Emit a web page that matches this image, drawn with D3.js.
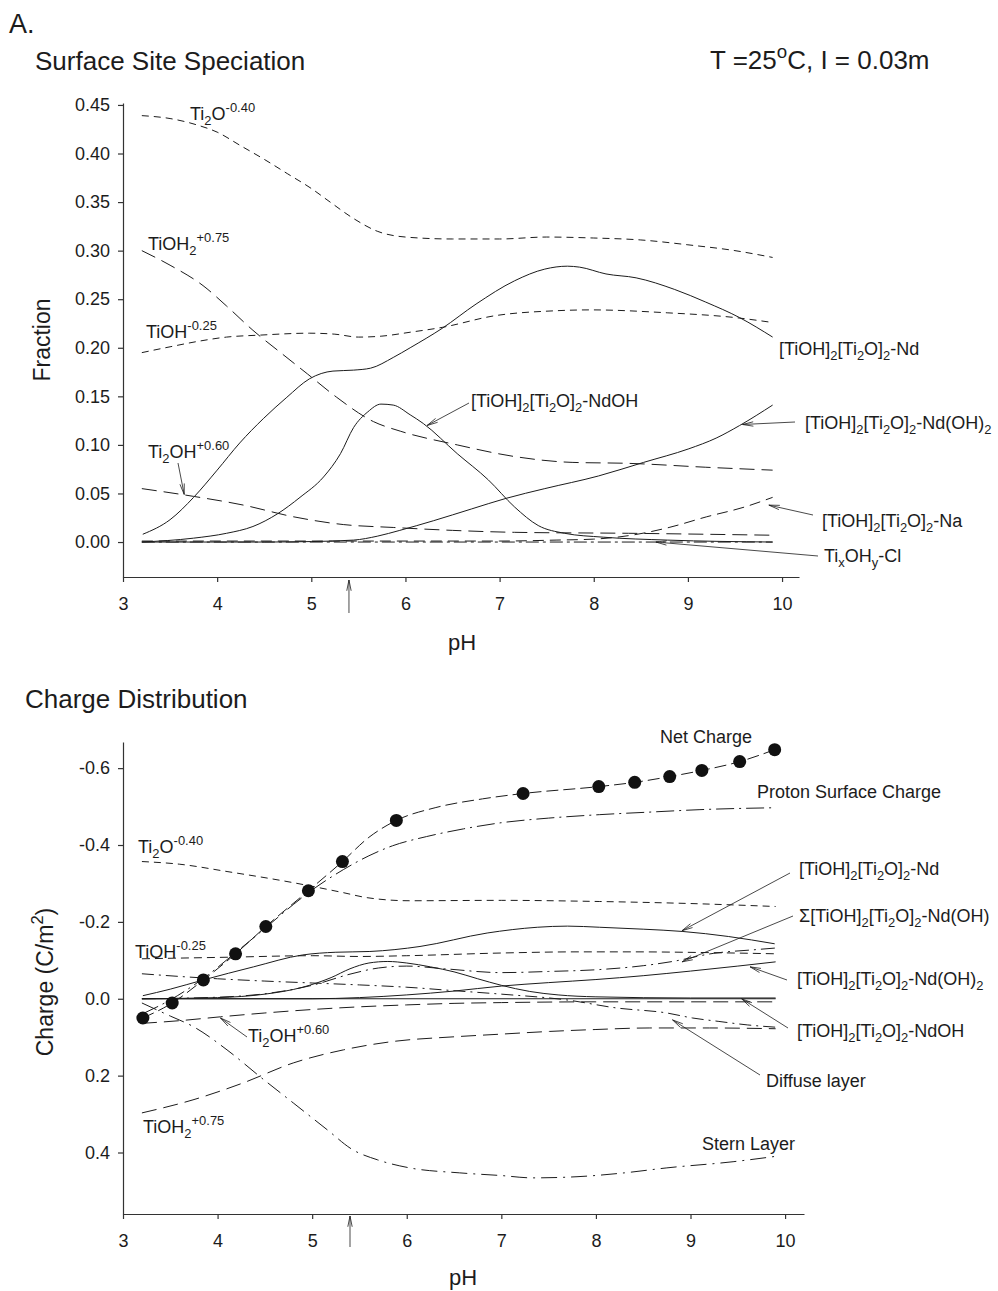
<!DOCTYPE html>
<html><head><meta charset="utf-8">
<script src="https://cdn.jsdelivr.net/npm/d3@7"></script>
<style>
body{margin:0;background:#fff}
text{font-family:"Liberation Sans",Arial,Helvetica,sans-serif;fill:#1c1c1c}
</style>
</head><body>
<svg id="c" width="998" height="1291"></svg>
<script>
// ---------------- DATA ----------------
const phTicks = [3,4,5,6,7,8,9,10];
const fracTicks = [0,0.05,0.10,0.15,0.20,0.25,0.30,0.35,0.40,0.45];
const chargeTicks = [-0.6,-0.4,-0.2,0.0,0.2,0.4];
const pzcPH = 5.4;

// Surface site speciation (fraction vs pH)
const fTi2O = [[3.2,0.439],[3.5,0.436],[3.8,0.429],[4.0,0.422],[4.25,0.408],[4.5,0.394],[4.75,0.379],[5.0,0.364],[5.2,0.350],[5.45,0.333],[5.7,0.320],[6.0,0.314],[6.5,0.312],[7.0,0.312],[7.5,0.314],[8.0,0.313],[8.5,0.311],[9.0,0.306],[9.5,0.300],[9.9,0.293]];
const fTiOH2 = [[3.2,0.300],[3.5,0.285],[3.85,0.264],[4.1,0.243],[4.38,0.218],[4.7,0.193],[4.96,0.173],[5.27,0.149],[5.66,0.124],[5.95,0.114],[6.55,0.100],[7.16,0.088],[7.77,0.082],[8.37,0.081],[9.19,0.077],[9.9,0.074]];
const fTiOH = [[3.2,0.195],[3.5,0.201],[3.82,0.207],[4.1,0.211],[4.45,0.213],[4.98,0.215],[5.25,0.214],[5.5,0.211],[5.75,0.212],[6.05,0.216],[6.39,0.221],[6.95,0.233],[7.57,0.238],[7.97,0.239],[8.78,0.236],[9.51,0.231],[9.9,0.226]];
const fNd = [[3.21,0.008],[3.5,0.023],[3.75,0.046],[4.0,0.074],[4.24,0.102],[4.49,0.127],[4.74,0.149],[4.98,0.168],[5.23,0.176],[5.45,0.177],[5.63,0.179],[5.87,0.190],[6.05,0.200],[6.39,0.220],[6.75,0.245],[7.16,0.269],[7.48,0.281],[7.72,0.284],[7.85,0.283],[8.13,0.276],[8.45,0.272],[8.86,0.260],[9.19,0.247],[9.55,0.231],[9.9,0.211]];
const fNdOH = [[3.2,0.000],[3.75,0.004],[4.1,0.009],[4.38,0.016],[4.64,0.029],[4.88,0.046],[5.13,0.067],[5.31,0.091],[5.45,0.118],[5.6,0.134],[5.74,0.142],[5.87,0.141],[6.05,0.131],[6.19,0.122],[6.55,0.091],[6.88,0.064],[7.16,0.036],[7.41,0.017],[7.69,0.009],[8.1,0.005],[8.78,0.002],[9.9,0.000]];
const fNdOH2 = [[3.2,0.000],[4.5,0.000],[5.0,0.0005],[5.45,0.002],[5.7,0.006],[5.94,0.012],[6.3,0.022],[6.7,0.034],[7.07,0.045],[7.48,0.055],[8.05,0.068],[8.53,0.082],[9.01,0.096],[9.3,0.107],[9.55,0.120],[9.9,0.141]];
const fTi2OH = [[3.2,0.055],[3.75,0.047],[4.28,0.038],[4.81,0.026],[5.34,0.018],[5.87,0.015],[6.5,0.012],[7.16,0.010],[8.37,0.009],[9.9,0.007]];
const fNa = [[3.2,0.001],[5.0,0.001],[7.0,0.001],[7.6,0.002],[8.0,0.003],[8.4,0.007],[8.8,0.015],[9.2,0.026],[9.6,0.036],[9.9,0.046]];
const fCl = [[3.2,0.000],[9.9,0.000]];

// Charge distribution (C/m2 vs pH)
const cNetPoints = [[3.21,0.050],[3.52,0.011],[3.85,-0.049],[4.19,-0.117],[4.51,-0.188],[4.96,-0.281],[5.32,-0.357],[5.89,-0.464],[7.23,-0.534],[8.03,-0.552],[8.41,-0.563],[8.78,-0.578],[9.12,-0.594],[9.52,-0.617],[9.89,-0.648]];
const cNetCurve = [[3.21,0.050],[3.52,0.011],[3.85,-0.049],[4.19,-0.117],[4.51,-0.188],[4.96,-0.281],[5.32,-0.357],[5.6,-0.420],[5.89,-0.464],[6.3,-0.497],[6.8,-0.520],[7.23,-0.534],[8.03,-0.552],[8.41,-0.563],[8.78,-0.578],[9.12,-0.594],[9.52,-0.617],[9.89,-0.648]];
const cProton = [[3.2,0.040],[3.5,0.003],[3.85,-0.053],[4.2,-0.122],[4.5,-0.183],[4.8,-0.245],[5.0,-0.283],[5.33,-0.336],[5.6,-0.372],[5.85,-0.398],[6.21,-0.422],[6.6,-0.442],[7.0,-0.458],[7.5,-0.470],[8.04,-0.479],[8.6,-0.486],[9.1,-0.492],[9.9,-0.497]];
const cTi2O = [[3.2,-0.357],[3.6,-0.350],[4.1,-0.331],[4.8,-0.302],[5.33,-0.276],[5.58,-0.263],[6.03,-0.255],[7.0,-0.256],[8.04,-0.253],[9.1,-0.247],[9.9,-0.240]];
const cTiOH = [[3.2,-0.104],[4.1,-0.108],[5.0,-0.112],[5.5,-0.110],[6.0,-0.112],[7.0,-0.119],[7.8,-0.122],[8.4,-0.122],[9.2,-0.120],[9.9,-0.117]];
const cNd = [[3.21,-0.008],[3.5,-0.025],[3.85,-0.049],[4.38,-0.083],[4.9,-0.114],[5.25,-0.121],[5.61,-0.123],[6.14,-0.136],[6.85,-0.171],[7.38,-0.186],[7.7,-0.189],[8.04,-0.186],[8.5,-0.181],[8.92,-0.175],[9.4,-0.162],[9.89,-0.143]];
const cSigmaNdOH = [[3.2,0.000],[4.0,-0.004],[4.5,-0.013],[5.0,-0.035],[5.4,-0.064],[5.7,-0.080],[6.0,-0.085],[6.4,-0.078],[7.0,-0.068],[7.5,-0.071],[8.04,-0.076],[8.5,-0.086],[8.81,-0.097],[9.24,-0.118],[9.7,-0.128],[9.9,-0.132]];
const cNdOH = [[3.2,0.000],[4.0,-0.003],[4.5,-0.012],[4.9,-0.030],[5.2,-0.055],[5.4,-0.078],[5.6,-0.093],[5.8,-0.097],[6.0,-0.093],[6.25,-0.083],[6.5,-0.070],[6.75,-0.052],[7.0,-0.035],[7.3,-0.019],[7.6,-0.010],[8.0,-0.005],[9.0,-0.002],[9.9,-0.002]];
const cNdOH2 = [[3.2,0.000],[5.0,0.000],[5.5,-0.003],[6.0,-0.010],[6.5,-0.020],[7.0,-0.033],[7.5,-0.042],[8.0,-0.050],[8.5,-0.060],[9.0,-0.072],[9.5,-0.085],[9.9,-0.096]];
const cTi2OH = [[3.2,0.064],[3.6,0.057],[4.03,0.047],[4.5,0.037],[5.0,0.028],[5.5,0.021],[6.0,0.016],[6.5,0.012],[7.0,0.010],[8.0,0.008],[9.0,0.008],[9.9,0.008]];
const cTiOH2 = [[3.2,0.297],[3.74,0.263],[4.27,0.219],[4.8,0.167],[5.33,0.133],[5.86,0.111],[6.5,0.099],[7.0,0.092],[7.51,0.085],[8.0,0.080],[8.57,0.076],[9.2,0.076],[9.9,0.078]];
const cDiffuse = [[3.2,-0.065],[3.6,-0.058],[4.0,-0.052],[4.5,-0.046],[5.0,-0.041],[5.5,-0.036],[6.0,-0.030],[6.5,-0.021],[7.0,-0.012],[7.69,0.003],[8.22,0.024],[8.75,0.037],[9.02,0.050],[9.3,0.059],[9.6,0.068],[9.9,0.074]];
const cStern = [[3.2,0.011],[3.5,0.045],[3.74,0.072],[4.1,0.133],[4.45,0.203],[4.8,0.271],[5.16,0.341],[5.43,0.393],[5.69,0.419],[6.03,0.440],[6.56,0.453],[7.0,0.460],[7.33,0.466],[7.8,0.463],[8.3,0.453],[8.75,0.440],[9.45,0.424],[9.9,0.410]];
const cClNa = [[3.2,0.000],[9.9,0.000]];

// ---------------- DRAWING ----------------
const svg = d3.select('#c');
const INK = '#1c1c1c';

function rich(sel, str, x, y, size, anchor, transform) {
  const t = sel.append('text').attr('font-size', size).attr('text-anchor', anchor || 'start');
  if (transform) t.attr('transform', transform); else t.attr('x', x).attr('y', y);
  const parts = str.split(/(_\{[^}]*\}|\^\{[^}]*\})/).filter(s => s.length);
  let cur = 0;
  parts.forEach(p => {
    let target = 0, fs = size, txt = p;
    if (p.startsWith('_{')) { target = size * 0.30; fs = size * 0.72; txt = p.slice(2, -1); }
    else if (p.startsWith('^{')) { target = -size * 0.42; fs = size * 0.72; txt = p.slice(2, -1); }
    t.append('tspan').attr('dy', (target - cur).toFixed(2)).attr('font-size', fs).text(txt);
    cur = target;
  });
  return t;
}

function arrow(g, x1, y1, x2, y2) {
  const a = Math.atan2(y2 - y1, x2 - x1), L = 11, w = 0.2;
  const p = d3.path();
  p.moveTo(x1, y1); p.lineTo(x2, y2);
  p.moveTo(x2 - L * Math.cos(a - w), y2 - L * Math.sin(a - w));
  p.lineTo(x2, y2);
  p.lineTo(x2 - L * Math.cos(a + w), y2 - L * Math.sin(a + w));
  g.append('path').attr('d', p.toString()).attr('fill', 'none').attr('stroke', INK).attr('stroke-width', 0.8);
}

function drawAxes(g, x, y, yTicks, yFmt, xAxisY) {
  const ax = g.append('g').attr('transform', `translate(0,${xAxisY})`)
    .call(d3.axisBottom(x).tickValues(phTicks).tickSize(5).tickPadding(15).tickSizeOuter(0).tickFormat(d3.format('d')));
  const ay = g.append('g').attr('transform', `translate(${x.range()[0]},0)`)
    .call(d3.axisLeft(y).tickValues(yTicks).tickSize(5).tickPadding(8).tickSizeOuter(0).tickFormat(yFmt));
  [ax, ay].forEach(a => {
    a.selectAll('path,line').attr('stroke', '#333').attr('stroke-width', 1.2);
    a.selectAll('text').attr('font-size', 18).attr('fill', INK).attr('font-family', '"Liberation Sans",Arial,sans-serif');
  });
}

function drawSeries(g, x, y, series) {
  const line = d3.line().x(d => x(d[0])).y(d => y(d[1])).curve(d3.curveMonotoneX);
  series.forEach(s => {
    g.append('path').datum(s.data).attr('d', line).attr('fill', 'none')
      .attr('stroke', INK).attr('stroke-width', s.w || 1)
      .attr('stroke-dasharray', s.dash || null);
  });
}

// Titles
svg.append('text').attr('x', 9).attr('y', 33).attr('font-size', 27).text('A.');
svg.append('text').attr('x', 35).attr('y', 70).attr('font-size', 26).text('Surface Site Speciation');
rich(svg, 'T =25^{o}C, I = 0.03m', 710, 69, 26);
svg.append('text').attr('x', 25).attr('y', 708).attr('font-size', 26).text('Charge Distribution');

// ---------- Top panel ----------
{
  const g = svg.append('g');
  const x = d3.scaleLinear().domain([3, 10.18]).range([123, 799]);
  const y = d3.scaleLinear().domain([-0.036, 0.452]).range([577, 103]);
  drawAxes(g, x, y, fracTicks, d3.format('.2f'), 577);
  drawSeries(g, x, y, [
    {data: fTi2O, dash: '7,5'},
    {data: fTiOH2, dash: '15,7'},
    {data: fTiOH, dash: '7,5'},
    {data: fNd},
    {data: fNdOH},
    {data: fNdOH2},
    {data: fTi2OH, dash: '15,7'},
    {data: fNa, dash: '11,6'},
    {data: fCl, dash: '13,4,3,4'}
  ]);
  // pH of zero charge marker
  arrow(g, x(pzcPH), 613, x(pzcPH), 580);
  svg.append('text').attr('x', 462).attr('y', 650).attr('font-size', 22).attr('text-anchor', 'middle').text('pH');
  svg.append('text').attr('transform', 'translate(50,340) rotate(-90)').attr('font-size', 23).attr('text-anchor', 'middle').text('Fraction');

  const L = 18;
  rich(g, 'Ti_{2}O^{-0.40}', 190, 120, L);
  rich(g, 'TiOH_{2}^{+0.75}', 148, 250, L);
  rich(g, 'TiOH^{-0.25}', 146, 338, L);
  rich(g, 'Ti_{2}OH^{+0.60}', 148, 458, L);
  rich(g, '[TiOH]_{2}[Ti_{2}O]_{2}-Nd', 779, 355, L);
  rich(g, '[TiOH]_{2}[Ti_{2}O]_{2}-NdOH', 471, 407, L);
  rich(g, '[TiOH]_{2}[Ti_{2}O]_{2}-Nd(OH)_{2}', 805, 429, L);
  rich(g, '[TiOH]_{2}[Ti_{2}O]_{2}-Na', 822, 527, L);
  rich(g, 'Ti_{x}OH_{y}-Cl', 824, 562, L);

  arrow(g, 178, 463, x(3.65), y(0.049));
  arrow(g, 469, 403, x(6.23), y(0.120));
  arrow(g, 795, 422, x(9.58), y(0.121));
  arrow(g, 813, 515, x(9.86), y(0.038));
  arrow(g, 818, 556, x(8.66), y(0.0));
}

// ---------- Bottom panel ----------
{
  const g = svg.append('g');
  const x = d3.scaleLinear().domain([3, 10.2]).range([123, 804]);
  const y = d3.scaleLinear().domain([-0.668, 0.56]).range([742, 1214]);
  drawAxes(g, x, y, chargeTicks, d => d.toFixed(1), 1214);
  drawSeries(g, x, y, [
    {data: cNetCurve, dash: '12,5'},
    {data: cProton, dash: '18,5,2,5'},
    {data: cTi2O, dash: '7,5'},
    {data: cTiOH, dash: '8,5'},
    {data: cNd},
    {data: cSigmaNdOH, dash: '14,5,2,5'},
    {data: cNdOH},
    {data: cNdOH2},
    {data: cTi2OH, dash: '15,7'},
    {data: cTiOH2, dash: '15,7'},
    {data: cDiffuse, dash: '12,5,2,5'},
    {data: cStern, dash: '16,6,2,6'},
    {data: cClNa}
  ]);
  g.selectAll('circle.net').data(cNetPoints).join('circle').attr('class', 'net')
    .attr('cx', d => x(d[0])).attr('cy', d => y(d[1])).attr('r', 6.5).attr('fill', '#111');
  arrow(g, x(pzcPH), 1247, x(pzcPH), 1216);
  svg.append('text').attr('x', 463).attr('y', 1285).attr('font-size', 22).attr('text-anchor', 'middle').text('pH');
  rich(svg, 'Charge  (C/m^{2})', 0, 0, 23, 'middle', 'translate(53,982) rotate(-90)');

  const L = 18;
  g.append('text').attr('x', 660).attr('y', 743).attr('font-size', L).text('Net Charge');
  g.append('text').attr('x', 757).attr('y', 798).attr('font-size', L).text('Proton Surface Charge');
  rich(g, 'Ti_{2}O^{-0.40}', 138, 853, L);
  rich(g, 'TiOH^{-0.25}', 135, 958, L);
  rich(g, 'Ti_{2}OH^{+0.60}', 248, 1042, L);
  rich(g, 'TiOH_{2}^{+0.75}', 143, 1133, L);
  rich(g, '[TiOH]_{2}[Ti_{2}O]_{2}-Nd', 799, 875, L);
  rich(g, 'Σ[TiOH]_{2}[Ti_{2}O]_{2}-Nd(OH)', 799, 922, L);
  rich(g, '[TiOH]_{2}[Ti_{2}O]_{2}-Nd(OH)_{2}', 797, 985, L);
  rich(g, '[TiOH]_{2}[Ti_{2}O]_{2}-NdOH', 797, 1037, L);
  g.append('text').attr('x', 766).attr('y', 1087).attr('font-size', L).text('Diffuse layer');
  g.append('text').attr('x', 702).attr('y', 1150).attr('font-size', L).text('Stern Layer');

  arrow(g, 247, 1037, x(4.03), y(0.050));
  arrow(g, 790, 873, x(8.91), y(-0.177));
  arrow(g, 793, 916, x(8.91), y(-0.096));
  arrow(g, 787, 980, x(9.63), y(-0.083));
  arrow(g, 788, 1028, x(9.54), y(0.0));
  arrow(g, 760, 1075, x(8.81), y(0.055));
}
</script>
</body></html>
